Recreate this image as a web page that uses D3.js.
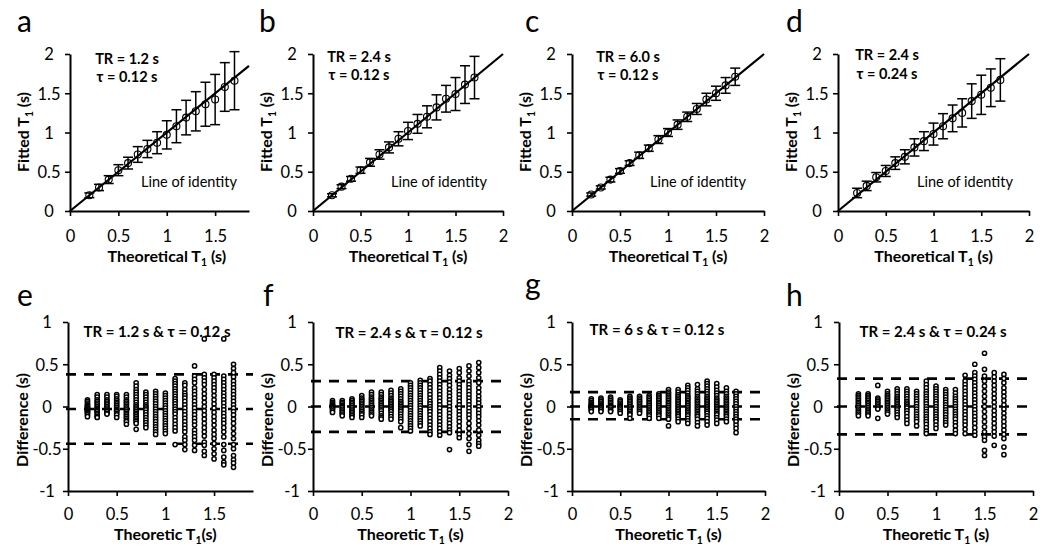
<!DOCTYPE html>
<html><head><meta charset="utf-8">
<script src="https://cdn.jsdelivr.net/npm/d3@7"></script>
<style>
body{margin:0;background:#fff}
svg{display:block}
text{font-family:Lato,"Open Sans",sans-serif;fill:#000}
</style>
</head><body>
<svg id="chart" width="1050" height="548"></svg>
<script>
// ---------------- DATA ----------------
const theoreticalT1 = [0.2,0.3,0.4,0.5,0.6,0.7,0.8,0.9,1.0,1.1,1.2,1.3,1.4,1.5,1.6,1.7];

// Fitted T1 means and error half-widths (s)
const fitA = [0.20,0.30,0.40,0.52,0.61,0.72,0.79,0.87,0.97,1.08,1.19,1.27,1.36,1.42,1.58,1.66];
const errA = [0.03,0.04,0.05,0.07,0.075,0.10,0.11,0.14,0.18,0.21,0.22,0.25,0.28,0.32,0.31,0.37];
const fitB = [0.20,0.31,0.41,0.52,0.62,0.72,0.81,0.92,1.02,1.11,1.20,1.32,1.43,1.49,1.61,1.70];
const errB = [0.02,0.025,0.03,0.04,0.05,0.06,0.07,0.09,0.11,0.12,0.14,0.16,0.17,0.21,0.24,0.27];
const fitC = [0.21,0.30,0.40,0.51,0.61,0.71,0.80,0.91,1.00,1.10,1.20,1.30,1.42,1.50,1.60,1.71];
const errC = [0.02,0.02,0.03,0.03,0.03,0.04,0.04,0.05,0.05,0.06,0.06,0.07,0.08,0.09,0.10,0.11];
const fitD = [0.23,0.32,0.43,0.51,0.61,0.69,0.81,0.89,0.98,1.08,1.18,1.25,1.40,1.48,1.57,1.67];
const errD = [0.06,0.06,0.06,0.07,0.08,0.09,0.11,0.12,0.14,0.16,0.17,0.18,0.22,0.25,0.24,0.27];

// Differences (fitted - theoretical), one list per theoretical T1
const diffE = [
 [0.08,0.06,0.04,0.02,0.01,0,-0.01,-0.02,-0.03,-0.04,-0.05,-0.06,-0.07,-0.08,-0.1,-0.12],
 [0.14,0.11,0.08,0.06,0.04,0.02,0,-0.02,-0.03,-0.04,-0.05,-0.06,-0.08,-0.1,-0.12,-0.13],
 [0.14,0.11,0.08,0.06,0.04,0.02,0,-0.02,-0.04,-0.05,-0.06,-0.08,-0.09],
 [0.14,0.12,0.09,0.07,0.05,0.03,0.01,-0.01,-0.03,-0.04,-0.05,-0.06,-0.08,-0.1,-0.13],
 [0.14,0.11,0.08,0.06,0.04,0.02,0,-0.02,-0.04,-0.06,-0.08,-0.1,-0.12,-0.14,-0.16,-0.18,-0.21],
 [0.28,0.24,0.2,0.17,0.14,0.11,0.08,0.05,0.02,0,-0.02,-0.04,-0.06,-0.08,-0.1,-0.12,-0.14,-0.16,-0.18,-0.2,-0.27],
 [0.17,0.14,0.11,0.08,0.05,0.02,0,-0.02,-0.04,-0.07,-0.1,-0.13,-0.16,-0.19,-0.22,-0.25],
 [0.18,0.15,0.12,0.09,0.06,0.03,0,-0.03,-0.06,-0.09,-0.12,-0.15,-0.18,-0.21,-0.24,-0.27,-0.3,-0.33],
 [0.16,0.13,0.1,0.07,0.04,0.01,-0.02,-0.05,-0.08,-0.11,-0.14,-0.17,-0.2,-0.23,-0.26,-0.29,-0.32],
 [0.33,0.3,0.27,0.24,0.21,0.18,0.15,0.12,0.09,0.06,0.03,0,-0.03,-0.06,-0.09,-0.13,-0.17,-0.21,-0.25,-0.29,-0.45],
 [0.28,0.25,0.2,0.16,0.13,0.1,0.06,0.02,-0.02,-0.06,-0.1,-0.14,-0.18,-0.22,-0.26,-0.3,-0.36,-0.4,-0.45,-0.51],
 [0.48,0.36,0.32,0.28,0.22,0.18,0.14,0.1,0.06,0.02,-0.02,-0.06,-0.1,-0.14,-0.18,-0.22,-0.28,-0.32,-0.36,-0.4,-0.46,-0.52],
 [0.8,0.38,0.34,0.3,0.26,0.2,0.15,0.1,0.05,0,-0.05,-0.1,-0.15,-0.2,-0.25,-0.3,-0.35,-0.42,-0.46,-0.53,-0.58],
 [0.38,0.34,0.3,0.26,0.22,0.18,0.13,0.08,0.03,-0.02,-0.07,-0.12,-0.17,-0.22,-0.28,-0.33,-0.38,-0.44,-0.5,-0.56,-0.62],
 [0.8,0.36,0.32,0.28,0.24,0.2,0.16,0.12,0.08,0.04,0,-0.04,-0.08,-0.12,-0.16,-0.2,-0.25,-0.3,-0.36,-0.45,-0.52,-0.6,-0.66,-0.69],
 [0.5,0.45,0.4,0.35,0.3,0.26,0.22,0.18,0.14,0.1,0.06,0.02,-0.02,-0.06,-0.1,-0.15,-0.2,-0.26,-0.32,-0.38,-0.45,-0.5,-0.58,-0.63,-0.67,-0.72]
];
const diffF = [
 [0.07,0.05,0.03,0.02,0.01,0,-0.01,-0.02,-0.03,-0.05,-0.07],
 [0.07,0.05,0.03,0.01,0,-0.01,-0.03,-0.05,-0.07,-0.09,-0.11],
 [0.09,0.07,0.05,0.03,0.01,-0.01,-0.03,-0.05,-0.07,-0.09,-0.11,-0.13],
 [0.13,0.1,0.08,0.06,0.04,0.02,0,-0.02,-0.04,-0.06,-0.08,-0.1,-0.13],
 [0.17,0.14,0.11,0.09,0.07,0.05,0.03,0.01,-0.01,-0.03,-0.05,-0.07,-0.09,-0.11],
 [0.17,0.14,0.11,0.09,0.07,0.05,0.03,0.01,-0.01,-0.03,-0.05,-0.08,-0.11,-0.13,-0.15],
 [0.19,0.16,0.13,0.1,0.08,0.06,0.04,0.02,0,-0.02,-0.04,-0.06,-0.09,-0.12,-0.15],
 [0.21,0.18,0.15,0.12,0.09,0.06,0.04,0.02,0,-0.02,-0.04,-0.06,-0.09,-0.12,-0.15,-0.18,-0.25],
 [0.28,0.25,0.22,0.19,0.16,0.13,0.1,0.07,0.04,0.01,-0.02,-0.05,-0.08,-0.11,-0.14,-0.17,-0.2,-0.23,-0.26,-0.29],
 [0.31,0.28,0.25,0.22,0.19,0.16,0.13,0.1,0.07,0.04,0.01,-0.02,-0.05,-0.08,-0.11,-0.14,-0.17,-0.2,-0.23],
 [0.33,0.3,0.26,0.22,0.18,0.14,0.1,0.06,0.03,0,-0.03,-0.06,-0.1,-0.14,-0.18,-0.22,-0.26,-0.3,-0.33],
 [0.46,0.42,0.38,0.34,0.3,0.26,0.22,0.18,0.14,0.1,0.06,0.02,-0.02,-0.06,-0.1,-0.14,-0.18,-0.22,-0.26,-0.3,-0.34],
 [0.42,0.37,0.33,0.29,0.25,0.2,0.16,0.12,0.08,0.04,0,-0.04,-0.08,-0.12,-0.16,-0.2,-0.24,-0.28,-0.31,-0.51],
 [0.45,0.4,0.34,0.3,0.26,0.22,0.18,0.14,0.1,0.06,0.02,-0.02,-0.06,-0.1,-0.14,-0.18,-0.23,-0.28,-0.33,-0.37],
 [0.48,0.42,0.36,0.3,0.26,0.22,0.18,0.14,0.1,0.06,0.02,-0.02,-0.06,-0.1,-0.14,-0.2,-0.26,-0.32,-0.38,-0.45,-0.53],
 [0.52,0.46,0.4,0.34,0.28,0.22,0.17,0.12,0.08,0.04,0,-0.04,-0.08,-0.12,-0.17,-0.22,-0.28,-0.34,-0.4,-0.44,-0.47]
];
const diffG = [
 [0.09,0.07,0.05,0.03,0.02,0.01,0,-0.01,-0.02,-0.03,-0.04,-0.06],
 [0.1,0.08,0.06,0.04,0.02,0.01,0,-0.01,-0.02,-0.04,-0.06],
 [0.11,0.09,0.07,0.05,0.03,0.01,0,-0.01,-0.03,-0.05,-0.06],
 [0.08,0.06,0.04,0.02,0.01,0,-0.01,-0.02,-0.04,-0.06,-0.08],
 [0.12,0.1,0.08,0.06,0.04,0.02,0,-0.02,-0.04,-0.06,-0.08,-0.1,-0.14],
 [0.12,0.1,0.08,0.06,0.04,0.02,0,-0.02,-0.04,-0.06,-0.08],
 [0.13,0.11,0.09,0.07,0.05,0.03,0.01,-0.01,-0.03,-0.05,-0.07,-0.09,-0.11,-0.14],
 [0.15,0.13,0.11,0.09,0.07,0.05,0.03,0.01,-0.01,-0.03,-0.05,-0.07,-0.09,-0.11,-0.14],
 [0.2,0.17,0.15,0.13,0.11,0.09,0.07,0.05,0.03,0.01,-0.01,-0.03,-0.05,-0.07,-0.09,-0.11,-0.13,-0.15,-0.23],
 [0.2,0.17,0.14,0.12,0.1,0.08,0.06,0.04,0.02,0,-0.02,-0.04,-0.06,-0.08,-0.1,-0.12,-0.15,-0.18],
 [0.25,0.22,0.19,0.16,0.13,0.11,0.09,0.07,0.05,0.03,0.01,-0.01,-0.03,-0.05,-0.07,-0.09,-0.11,-0.14,-0.17,-0.2],
 [0.26,0.21,0.18,0.15,0.12,0.1,0.08,0.06,0.04,0.02,0,-0.02,-0.04,-0.06,-0.08,-0.1,-0.12,-0.15,-0.19,-0.23],
 [0.3,0.27,0.24,0.21,0.18,0.15,0.12,0.1,0.08,0.06,0.04,0.02,0,-0.02,-0.04,-0.06,-0.08,-0.11,-0.14,-0.18,-0.22],
 [0.27,0.23,0.19,0.16,0.13,0.1,0.08,0.06,0.04,0.02,0,-0.02,-0.04,-0.06,-0.08,-0.1,-0.13,-0.16,-0.2],
 [0.22,0.18,0.15,0.12,0.1,0.08,0.06,0.04,0.02,0,-0.02,-0.04,-0.06,-0.08,-0.1,-0.12,-0.15,-0.18],
 [0.18,0.15,0.12,0.09,0.06,0.03,0,-0.03,-0.06,-0.09,-0.12,-0.15,-0.18,-0.22,-0.26,-0.31]
];
const diffH = [
 [0.15,0.13,0.11,0.09,0.07,0.05,0.03,0.01,-0.01,-0.03,-0.05,-0.07,-0.09,-0.11],
 [0.15,0.13,0.11,0.09,0.07,0.05,0.03,0.01,-0.01,-0.03,-0.05,-0.07,-0.09,-0.11],
 [0.25,0.1,0.08,0.06,0.04,0.02,0,-0.02,-0.03,-0.14],
 [0.18,0.15,0.13,0.11,0.09,0.07,0.05,0.03,0.01,-0.01,-0.03,-0.05,-0.07,-0.09],
 [0.21,0.18,0.15,0.12,0.1,0.08,0.06,0.04,0.02,0,-0.02,-0.04,-0.07,-0.1,-0.13],
 [0.21,0.18,0.15,0.12,0.09,0.06,0.04,0.02,0,-0.02,-0.05,-0.08,-0.12,-0.16,-0.2],
 [0.18,0.15,0.12,0.09,0.06,0.03,0,-0.03,-0.06,-0.09,-0.12,-0.15,-0.18,-0.23],
 [0.3,0.26,0.22,0.18,0.15,0.12,0.09,0.06,0.03,0,-0.03,-0.06,-0.09,-0.12,-0.15,-0.18,-0.21,-0.25,-0.29,-0.32],
 [0.24,0.21,0.18,0.15,0.12,0.09,0.06,0.03,0,-0.03,-0.06,-0.09,-0.12,-0.15,-0.18,-0.22,-0.26],
 [0.2,0.17,0.14,0.11,0.08,0.05,0.02,-0.01,-0.04,-0.07,-0.1,-0.13,-0.16,-0.19,-0.22],
 [0.2,0.16,0.12,0.09,0.06,0.03,0,-0.03,-0.06,-0.09,-0.12,-0.15,-0.19,-0.23,-0.28,-0.32],
 [0.37,0.3,0.26,0.22,0.18,0.14,0.1,0.06,0.02,-0.02,-0.06,-0.1,-0.14,-0.18,-0.22,-0.27,-0.32],
 [0.5,0.4,0.36,0.32,0.28,0.24,0.2,0.16,0.12,0.08,0.04,0,-0.04,-0.08,-0.12,-0.16,-0.2,-0.25,-0.3,-0.34],
 [0.63,0.44,0.36,0.3,0.24,0.18,0.12,0.06,0,-0.06,-0.12,-0.18,-0.24,-0.3,-0.36,-0.4,-0.52,-0.58],
 [0.4,0.35,0.3,0.25,0.2,0.15,0.1,0.05,0,-0.05,-0.1,-0.15,-0.2,-0.25,-0.3,-0.35,-0.46],
 [0.38,0.33,0.28,0.22,0.17,0.12,0.07,0.02,-0.03,-0.08,-0.13,-0.18,-0.23,-0.28,-0.33,-0.38,-0.48,-0.57]
];

// Bias (mean difference) and limits of agreement [mean, upper, lower]
const limitsE = [-0.03, 0.38, -0.44];
const limitsF = [0.0, 0.30, -0.30];
const limitsG = [0.0, 0.17, -0.15];
const limitsH = [0.0, 0.33, -0.33];

// Tick labels
const ticksTopA = [0,0.5,1,1.5];
const ticksTopFull = [0,0.5,1,1.5,2];
const ticksFittedY = [0,0.5,1,1.5,2];
const ticksDiffY = [-1,-0.5,0,0.5,1];
const ticksBotE = [0,0.5,1,1.5];

// Annotations
const topLabels = [["TR = 1.2 s","τ = 0.12 s"],["TR = 2.4 s","τ = 0.12 s"],["TR = 6.0 s","τ = 0.12 s"],["TR = 2.4 s","τ = 0.24 s"]];
const botLabels = ["TR = 1.2 s & τ = 0.12 s","TR = 2.4 s & τ = 0.12 s","TR = 6 s & τ = 0.12 s","TR = 2.4 s & τ = 0.24 s"];
const letters = ["a","b","c","d","e","f","g","h"];

// ---------------- DRAW ----------------
const svg = d3.select("#chart");
const fmt = d => String(d);

function subText(g, x, y, pre, post, size, bold, rotate) {
  const t = g.append("text")
    .attr("text-anchor","middle")
    .attr("font-size", size)
    .attr("font-weight", bold ? "bold" : "normal")
    .attr("transform", `translate(${x},${y})` + (rotate ? " rotate(-90)" : ""));
  t.append("tspan").text(pre);
  t.append("tspan").attr("font-size", size*0.65).attr("dy", 4).text("1");
  t.append("tspan").attr("dy", -4).text(post);
  return t;
}

function styleAxis(ax, isY) {
  ax.select(".domain").attr("stroke","#000").attr("stroke-width",2);
  ax.selectAll(".tick line").attr("stroke","#000").attr("stroke-width",1.6);
  ax.selectAll(".tick text").attr("font-size",16.5).attr("font-family","Lato, sans-serif").attr("fill","#000");
  if (isY) {
    ax.selectAll(".tick text").attr("text-anchor","middle").attr("x",-21).attr("dy","0.35em");
  }
}

// Top panels
const topPanels = [
  {fit:fitA, err:errA, r:[70,249], dom:1.85, ticks:ticksTopA, letterX:17, ann:[127,64,82], loi:189},
  {fit:fitB, err:errB, r:[313,503], dom:2, ticks:ticksTopFull, letterX:259, ann:[359,62,80], loi:439},
  {fit:fitC, err:errC, r:[572,764], dom:2, ticks:ticksTopFull, letterX:525, ann:[628,62,80], loi:698},
  {fit:fitD, err:errD, r:[838,1029], dom:2, ticks:ticksTopFull, letterX:786, ann:[887,60,79], loi:965}
];

topPanels.forEach((p, i) => {
  const g = svg.append("g");
  const unit = (p.r[1]-p.r[0])/p.dom;
  const x = d3.scaleLinear().domain([0,p.dom]).range(p.r);
  const y = d3.scaleLinear().domain([0,2]).range([211,54]);

  const ay = g.append("g").attr("transform",`translate(${p.r[0]},0)`)
    .call(d3.axisLeft(y).tickValues(ticksFittedY).tickFormat(fmt).tickSize(5).tickSizeOuter(0));
  styleAxis(ay, true);
  const ax = g.append("g").attr("transform",`translate(0,211)`)
    .call(d3.axisBottom(x).tickValues(p.ticks).tickFormat(fmt).tickSize(5).tickSizeOuter(0));
  styleAxis(ax, false);
  ax.selectAll(".tick text").attr("y",31).attr("dy",0);

  // identity line
  g.append("line").attr("x1",x(0)).attr("y1",y(0)).attr("x2",x(p.dom)).attr("y2",y(p.dom))
    .attr("stroke","#000").attr("stroke-width",2.2);

  // error bars
  const cap = 5;
  theoreticalT1.forEach((t, k) => {
    const cx = x(t), m = p.fit[k], e = p.err[k];
    g.append("line").attr("x1",cx).attr("x2",cx).attr("y1",y(m+e)).attr("y2",y(m-e)).attr("stroke","#000").attr("stroke-width",1.5);
    g.append("line").attr("x1",cx-cap).attr("x2",cx+cap).attr("y1",y(m+e)).attr("y2",y(m+e)).attr("stroke","#000").attr("stroke-width",1.5);
    g.append("line").attr("x1",cx-cap).attr("x2",cx+cap).attr("y1",y(m-e)).attr("y2",y(m-e)).attr("stroke","#000").attr("stroke-width",1.5);
  });
  g.selectAll("circle.pt").data(theoreticalT1).join("circle")
    .attr("cx", d => x(d)).attr("cy", (d,k) => y(p.fit[k])).attr("r",3.5)
    .attr("fill","none").attr("stroke","#000").attr("stroke-width",1.1);

  // labels
  g.append("text").attr("x",p.ann[0]).attr("y",p.ann[1]).attr("text-anchor","middle")
    .attr("font-size",14.5).attr("font-weight","bold").text(topLabels[i][0]);
  g.append("text").attr("x",p.ann[0]).attr("y",p.ann[2]).attr("text-anchor","middle")
    .attr("font-size",14.5).attr("font-weight","bold").text(topLabels[i][1]);
  g.append("text").attr("x",p.loi).attr("y",187).attr("text-anchor","middle")
    .attr("font-size",14.5).text("Line of identity");

  subText(g, p.r[0] + unit, 262, "Theoretical T", " (s)", 16, true, false);
  subText(g, p.r[0]-41, 132, "Fitted T", " (s)", 16, true, true);

  g.append("text").attr("x",p.letterX).attr("y",32).attr("font-size",30).text(letters[i]);
});

// Bottom panels
const botPanels = [
  {diff:diffE, lim:limitsE, r:[68,253], dom:1.9, ticks:ticksBotE, letterX:17, letterY:306, ann:[157,337], title:["Theoretic T","(s)"]},
  {diff:diffF, lim:limitsF, r:[313,508], dom:2, ticks:ticksTopFull, letterX:263, letterY:306, ann:[409,338], title:["Theoretic T"," (s)"]},
  {diff:diffG, lim:limitsG, r:[572,765], dom:2, ticks:ticksTopFull, letterX:525, letterY:295, ann:[657,335], title:["Theoretic T"," (s)"], serif:true},
  {diff:diffH, lim:limitsH, r:[839,1033], dom:2, ticks:ticksTopFull, letterX:786, letterY:306, ann:[933,337], title:["Theoretic T"," (s)"]}
];

botPanels.forEach((p, i) => {
  const g = svg.append("g");
  const unit = (p.r[1]-p.r[0])/p.dom;
  const x = d3.scaleLinear().domain([0,p.dom]).range(p.r);
  const y = d3.scaleLinear().domain([-1,1]).range([491,322]);

  // dashed lines
  p.lim.forEach(v => {
    g.append("line").attr("x1",x(0)-2).attr("x2",x(p.dom)).attr("y1",y(v)).attr("y2",y(v))
      .attr("stroke","#000").attr("stroke-width",2.6).attr("stroke-dasharray","10,8");
  });

  // points
  const pts = [];
  theoreticalT1.forEach((t, k) => p.diff[k].forEach(v => pts.push([t, v])));
  g.selectAll("circle").data(pts).join("circle")
    .attr("cx", d => x(d[0])).attr("cy", d => y(d[1])).attr("r",2.1)
    .attr("fill","#fff").attr("stroke","#000").attr("stroke-width",1.5);

  const ay = g.append("g").attr("transform",`translate(${p.r[0]},0)`)
    .call(d3.axisLeft(y).tickValues(ticksDiffY).tickFormat(fmt).tickSize(5).tickSizeOuter(0));
  styleAxis(ay, true);
  const ax = g.append("g").attr("transform",`translate(0,491)`)
    .call(d3.axisBottom(x).tickValues(p.ticks).tickFormat(fmt).tickSize(5).tickSizeOuter(0));
  styleAxis(ax, false);
  ax.selectAll(".tick text").attr("y",29).attr("dy",0);

  g.append("text").attr("x",p.ann[0]).attr("y",p.ann[1]).attr("text-anchor","middle")
    .attr("font-size",15).attr("font-weight","bold").text(botLabels[i]);

  subText(g, p.r[0] + unit, 540, p.title[0], p.title[1], 16, true, false);
  g.append("text").attr("text-anchor","middle").attr("font-size",16).attr("font-weight","bold")
    .attr("transform",`translate(${p.r[0]-40},420) rotate(-90)`).text("Difference (s)");

  g.append("text").attr("x",p.letterX).attr("y",p.letterY).attr("font-size",30)
    .attr("font-family", p.serif ? "'Liberation Serif', serif" : "Lato, sans-serif")
    .text(letters[i+4]);
});
</script>
</body></html>
